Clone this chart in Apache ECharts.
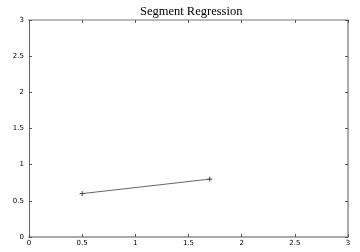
<!DOCTYPE html>
<html><head><meta charset="utf-8">
<script src="https://cdn.jsdelivr.net/npm/echarts@6/dist/echarts.min.js"></script>
<style>html,body{margin:0;padding:0;background:#fff}#c{width:360px;height:252px}</style>
</head><body><div id="c"></div>
<script>
var titleText = 'Segment Regression';
var segX = [0.5, 1.7];
var segY = [0.6, 0.8];
var xTicks = [0, 0.5, 1, 1.5, 2, 2.5, 3];
var yTicks = [0, 0.5, 1, 1.5, 2, 2.5, 3];

var data = segX.map(function (x, i) { return [x, segY[i]]; });
var plus = 'path://M0,5 L10,5 M5,0 L5,10';
function fmt(v) { return String(v); }
var lbl = { fontSize: 7, color: '#000', fontFamily: 'DejaVu Sans', formatter: fmt };

var chart = echarts.init(document.getElementById('c'), null, { renderer: 'canvas' });
chart.setOption({
  animation: false,
  title: { text: titleText, left: 135, top: 0,
    textStyle: { fontFamily: 'Liberation Serif', fontWeight: 'normal', fontSize: 12.5, color: '#000' } },
  grid: { left: 29, right: 12, top: 20, bottom: 15, containLabel: false },
  xAxis: [
    { type: 'value', min: 0, max: 3, interval: 0.5, position: 'bottom',
      axisLine: { show: true, onZero: false, lineStyle: { color: '#aaa', width: 2 } },
      axisTick: { show: true, inside: true, length: 3, lineStyle: { color: '#555' } },
      axisLabel: Object.assign({ margin: 3 }, lbl),
      splitLine: { show: false } },
    { type: 'value', min: 0, max: 3, interval: 0.5, position: 'top',
      axisLine: { show: true, onZero: false, lineStyle: { color: '#bbb', width: 2 } },
      axisTick: { show: true, inside: true, length: 3, lineStyle: { color: '#555' } },
      axisLabel: { show: false }, splitLine: { show: false } }
  ],
  yAxis: [
    { type: 'value', min: 0, max: 3, interval: 0.5, position: 'left',
      axisLine: { show: true, onZero: false, lineStyle: { color: '#666', width: 1 } },
      axisTick: { show: true, inside: true, length: 3, lineStyle: { color: '#555' } },
      axisLabel: Object.assign({ margin: 5 }, lbl),
      splitLine: { show: false } },
    { type: 'value', min: 0, max: 3, interval: 0.5, position: 'right',
      axisLine: { show: true, onZero: false, lineStyle: { color: '#aaa', width: 2 } },
      axisTick: { show: true, inside: true, length: 3, lineStyle: { color: '#555' } },
      axisLabel: { show: false }, splitLine: { show: false } }
  ],
  series: [{
    type: 'line', data: data, xAxisIndex: 0, yAxisIndex: 0,
    symbol: plus, symbolSize: 5,
    lineStyle: { color: '#666', width: 1 },
    itemStyle: { color: 'none', borderColor: '#444', borderWidth: 1 }
  }]
});
</script></body></html>
